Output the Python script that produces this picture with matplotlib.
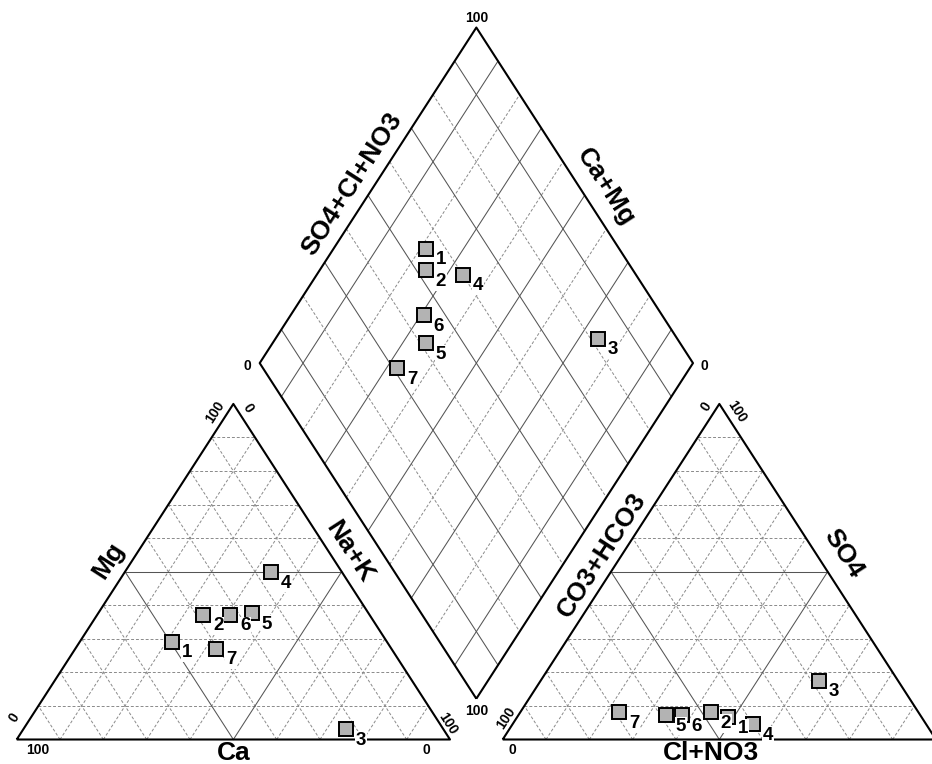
import numpy as np
import matplotlib
matplotlib.use('Agg')
import matplotlib.pyplot as plt

# ---------------- data (percent of meq) ----------------
samples = ['1', '2', '3', '4', '5', '6', '7']
ca   = [49.5, 38.4, 22.6, 16.4, 27.0, 32.2, 40.4]
mg   = [29.2, 37.1,  3.0, 49.9, 37.6, 37.1, 27.1]
nak  = [21.3, 24.5, 74.4, 33.7, 35.4, 30.7, 32.5]
hco3 = [44.6, 47.9, 18.3, 39.9, 58.7, 55.0, 69.0]
so4  = [ 6.6,  8.1, 17.5,  4.6,  7.3,  7.3,  8.1]
cl   = [48.8, 44.0, 64.2, 55.5, 34.0, 37.7, 22.9]

# ---------------- geometry ----------------
S = np.sqrt(3) / 2
GAP = 0.1216
X0R = 1 + GAP

def tri_pt(right, top, x0=0.0):
    return x0 + right + 0.5 * top, top * S

def dia_pt(na, an):
    return (na + X0R + an) / 2, S * (X0R + an - na)

fig = plt.figure(figsize=(9.32, 7.64), dpi=100)
ax = fig.add_axes([0, 0, 1, 1])
ax.set_xlim(-16.7 / 433.3, (932 - 16.7) / 433.3)
ax.set_ylim(-(764 - 739.5) / 387.5, 739.5 / 387.5)
ax.axis('off')

FONT = 'Liberation Sans'
EDGE = dict(color='black', lw=1.5, zorder=2, solid_capstyle='butt')
SOLID = dict(color='#555555', lw=0.75, zorder=1)
DASH = dict(color='#8a8a8a', lw=0.7, ls=(0, (3, 2)), zorder=1)

def line(p, q, **kw):
    ax.plot([p[0], q[0]], [p[1], q[1]], **kw)

# triangles
for x0 in (0.0, X0R):
    for i in range(1, 10):
        v = i / 10
        st = SOLID if i == 5 else DASH
        line(tri_pt(0, v, x0), tri_pt(1 - v, v, x0), **st)
        line(tri_pt(v, 0, x0), tri_pt(v, 1 - v, x0), **st)
        line(tri_pt(1 - v, 0, x0), tri_pt(0, 1 - v, x0), **st)
    a, b, c = tri_pt(0, 0, x0), tri_pt(1, 0, x0), tri_pt(0, 1, x0)
    ax.plot([a[0], b[0], c[0], a[0]], [a[1], b[1], c[1], a[1]], **EDGE)

# diamond
for i in range(1, 10):
    v = i / 10
    st = SOLID if i % 2 == 1 else DASH
    line(dia_pt(v, 0), dia_pt(v, 1), **st)
    line(dia_pt(0, v), dia_pt(1, v), **st)
dB, dL, dT, dR = dia_pt(1, 0), dia_pt(0, 0), dia_pt(0, 1), dia_pt(1, 1)
ax.plot([dB[0], dL[0], dT[0], dR[0], dB[0]], [dB[1], dL[1], dT[1], dR[1], dB[1]], **EDGE)

# ---------------- points ----------------
nak_f = np.array(nak) / 100
mg_f = np.array(mg) / 100
cl_f = np.array(cl) / 100
so4_f = np.array(so4) / 100

cx, cy = tri_pt(nak_f, mg_f)
axx, ayy = tri_pt(cl_f, so4_f, X0R)
dx, dy = dia_pt(nak_f, cl_f + so4_f)

MK = dict(ls='none', marker='s', ms=10, mfc='#b3b3b3', mec='black', mew=1.4, zorder=4)
for xs, ys in ((cx, cy), (axx, ayy), (dx, dy)):
    ax.plot(xs, ys, **MK)
for xs, ys in ((cx, cy), (axx, ayy), (dx, dy)):
    for lab, x, y in zip(samples, xs, ys):
        ax.annotate(lab, (x, y), xytext=(15, -11), textcoords='offset pixels',
                    ha='center', va='center', fontsize=13.5, fontweight='bold',
                    family=FONT, zorder=5,
                    bbox=dict(fc='white', ec='none', pad=0.5))

# ---------------- text ----------------
ang = np.degrees(np.arctan2(S * 387.5, 0.5 * 433.3))

def txt(s, xy, off, rot=0, size=10):
    ax.annotate(s, xy, xytext=off, textcoords='offset pixels', ha='center',
                va='center', rotation=rot, fontsize=size, fontweight='bold',
                family=FONT, rotation_mode='anchor', zorder=6)

BL, BR, AP = tri_pt(0, 0), tri_pt(1, 0), tri_pt(0, 1)
BLr, BRr, APr = tri_pt(0, 0, X0R), tri_pt(1, 0, X0R), tri_pt(0, 1, X0R)

# tick labels
txt('100', BL, (21, -10.5))
txt('0', BR, (-24, -10.5))
txt('0', BL, (-2, 22), ang)
txt('100', AP, (-18, -8), ang)
txt('0', AP, (15, -4), -ang)
txt('100', BR, (-2, 16), -ang)

txt('100', BLr, (3, 21), ang)
txt('0', BLr, (10, -10.5))
txt('100', BRr, (-13, -10.5))
txt('0', APr, (-13, -2.5), ang)
txt('100', APr, (17, -8), -ang)
txt('0', BRr, (-6, 24.5), -ang)

txt('100', dT, (0, 10))
txt('0', dL, (-12, -3))
txt('0', dR, (11, -3))
txt('100', dB, (0, -12))

# axis titles
TS = 19
mid = lambda p, q: ((p[0] + q[0]) / 2, (p[1] + q[1]) / 2)
txt('Ca', mid(BL, BR), (0, -14), 0, TS)
txt('Mg', mid(BL, AP), (-17, 11.5), ang, TS)
txt('Na+K', mid(BR, AP), (8, 20), -ang, TS)
txt('Cl+NO3', mid(BLr, BRr), (-8, -14), 0, TS)
txt('CO3+HCO3', mid(BLr, APr), (-9.3, 16.5), ang, TS)
txt('SO4', mid(BRr, APr), (15.6, 18), -ang, TS)
txt('SO4+Cl+NO3', mid(dL, dT), (-16.3, 11.3), ang, TS)
txt('Ca+Mg', mid(dT, dR), (21.3, 8), -ang, TS)

fig.savefig('out.png', dpi=100)
